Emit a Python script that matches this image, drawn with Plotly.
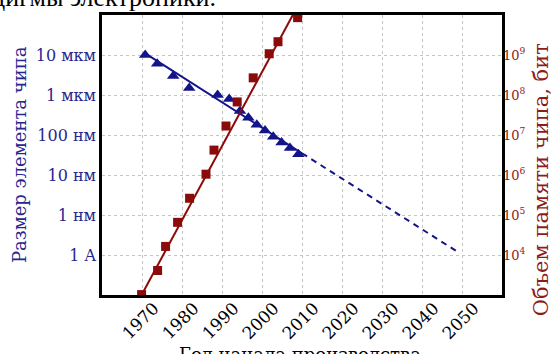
import plotly.graph_objects as go

# Chip feature size (nm) by year of production start
size_years = [1970.8, 1973.8, 1977.8, 1981.8, 1988.9, 1991.8, 1994.5, 1996.6, 1998.7, 2000.75, 2002.8, 2004.9, 2007.0, 2009.1]
size_nm = [10000, 6000, 3000, 1500, 1000, 800, 400, 270, 180, 130, 90, 65, 47, 33]

# Size trend (solid = observed, dashed = extrapolation)
size_trend_years = [1970.8, 2010]
size_trend_nm = [11000, 35]
size_proj_years = [2010, 2049.5]
size_proj_nm = [35, 0.11]

# Chip memory capacity (bits)
mem_years = [1969.9, 1973.9, 1975.9, 1978.9, 1981.9, 1986, 1988, 1991, 1993.8, 1997.8, 2001.8, 2004, 2008.9]
mem_bits = [1024, 4096, 16384, 65536, 262144, 1048576, 4194304, 16777216,
            67108864, 268435456, 1073741824, 2147483648, 8589934592]
mem_trend_years = [1969.9, 2007.7]
mem_trend_bits = [1e3, 1e10]

x_ticks = [1970, 1980, 1990, 2000, 2010, 2020, 2030, 2040, 2050]
left_tickvals = [1e4, 1e3, 1e2, 1e1, 1, 0.1]
left_ticktext = ["10 мкм", "1 мкм", "100 нм", "10 нм", "1 нм", "1 A"]
right_tickvals = [1e4, 1e5, 1e6, 1e7, 1e8, 1e9]
right_ticktext = ["10<sup>4</sup>", "10<sup>5</sup>", "10<sup>6</sup>", "10<sup>7</sup>", "10<sup>8</sup>", "10<sup>9</sup>"]

BLUE = "#14148a"
BLUE_TXT = "#262690"
RED = "#8b0a0a"
RED_TXT = "#8e1a1a"
FONT = "DejaVu Serif"

fig = go.Figure()
fig.add_trace(go.Scatter(x=size_trend_years, y=size_trend_nm, mode="lines",
                         line=dict(color=BLUE, width=2), yaxis="y", showlegend=False))
fig.add_trace(go.Scatter(x=size_proj_years, y=size_proj_nm, mode="lines",
                         line=dict(color=BLUE, width=2, dash="6px,5px"), yaxis="y", showlegend=False))
fig.add_trace(go.Scatter(x=size_years, y=size_nm, mode="markers",
                         marker=dict(symbol="triangle-up", size=11, color=BLUE), yaxis="y", showlegend=False))
fig.add_trace(go.Scatter(x=mem_trend_years, y=mem_trend_bits, mode="lines",
                         line=dict(color=RED, width=2), yaxis="y2", showlegend=False))
fig.add_trace(go.Scatter(x=mem_years, y=mem_bits, mode="markers",
                         marker=dict(symbol="square", size=9, color=RED), yaxis="y2", showlegend=False))

fig.update_layout(
    width=551, height=354,
    margin=dict(l=102, r=49, t=15, b=59),
    paper_bgcolor="white", plot_bgcolor="white",
    font=dict(family=FONT),
    xaxis=dict(range=[1960, 2060], tickvals=x_ticks, tickangle=-45,
               tickfont=dict(family=FONT, size=17, color="black"),
               ticklabelshift=12, ticklabelstandoff=-6, automargin=False,
               showgrid=True, gridcolor="#c4c4c4", griddash="dot", gridwidth=1,
               showline=True, linecolor="black", linewidth=2.5, mirror=True,
               zeroline=False, ticks=""),
    yaxis=dict(type="log", range=[-2, 5], tickvals=left_tickvals, ticktext=left_ticktext,
               tickfont=dict(family=FONT, size=16, color=BLUE_TXT), automargin=False,
               showgrid=True, gridcolor="#c4c4c4", griddash="dot", gridwidth=1,
               showline=True, linecolor="black", linewidth=2.5, mirror=True,
               zeroline=False, ticks=""),
    yaxis2=dict(type="log", range=[3, 10], overlaying="y", side="right",
                tickvals=right_tickvals, ticktext=right_ticktext, automargin=False,
                tickfont=dict(family=FONT, size=13, color=RED_TXT),
                showgrid=False, showline=False, zeroline=False, ticks=""),
    annotations=[
        dict(text="Размер элемента чипа", xref="paper", yref="paper", x=-0.2075, y=0.5,
             xanchor="center", yanchor="middle", textangle=-90, showarrow=False,
             font=dict(family=FONT, size=18, color=BLUE_TXT)),
        dict(text="Объем памяти чипа, бит", xref="paper", yref="paper", x=1.0975, y=0.41,
             xanchor="center", yanchor="middle", textangle=-90, showarrow=False,
             font=dict(family=FONT, size=21, color=RED_TXT)),
        dict(text="Год начала производства", xref="paper", yref="paper", x=0.495, y=0,
             xanchor="center", yanchor="top", yshift=-47, showarrow=False,
             font=dict(family=FONT, size=18, color="black")),
        dict(text="парадигмы электроники.", xref="paper", yref="paper", x=(218 - 102) / 400, y=1,
             xanchor="right", yanchor="bottom", yshift=1, showarrow=False,
             font=dict(family="Liberation Serif", size=26, color="black")),
    ],
)

fig.write_html("out.html")
